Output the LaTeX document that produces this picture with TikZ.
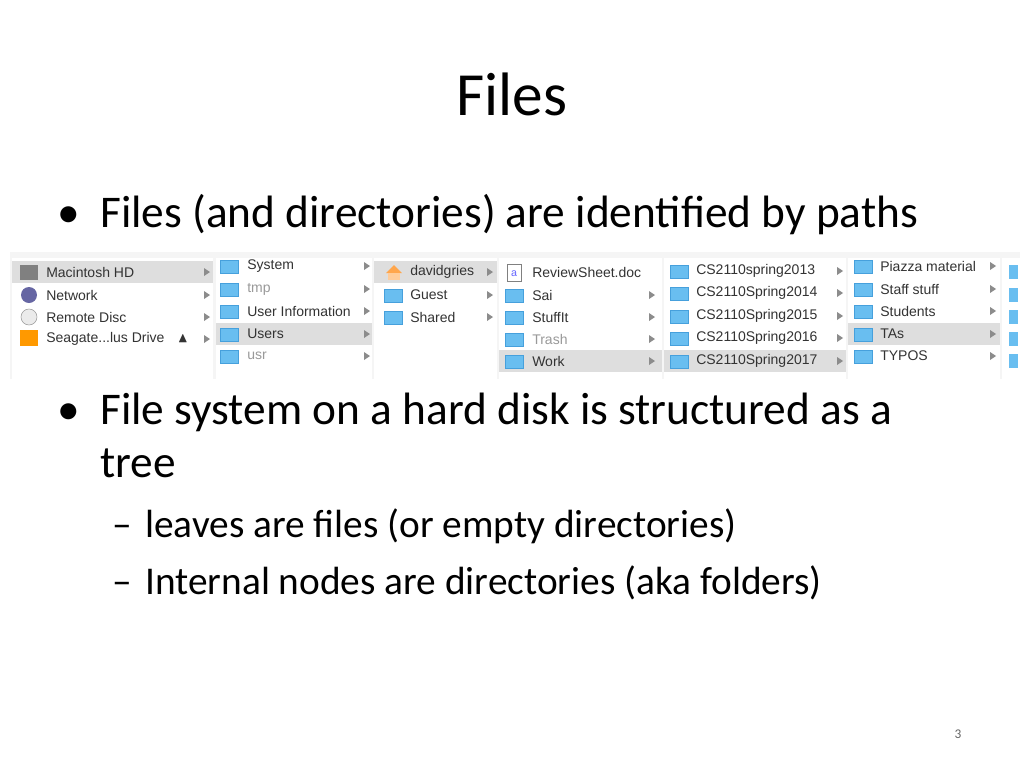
\documentclass[tikz,border=0pt]{standalone}
\usepackage{amssymb}
\usepackage{fontspec}
\setmainfont{Carlito}
\newfontfamily\finderfont{Liberation Sans}
\definecolor{foldblue}{RGB}{105,190,240}
\definecolor{foldedge}{RGB}{70,160,220}
\tikzset{
  slidetext/.style={anchor=base west, inner sep=0pt, font=\fontsize{34}{36}\selectfont},
  subtext/.style={anchor=base west, inner sep=0pt, font=\fontsize{29.5}{31}\selectfont},
  finder/.style={anchor=west, inner sep=0pt, font=\finderfont\fontsize{10.5}{12}\selectfont, text=black!80},
  faded/.style={finder, text=black!40},
  folder/.style={fill=foldblue, draw=foldedge, line width=0.4pt},
  seltrack/.style={fill=black!13, draw=none},
  tri/.style={fill=black!45, draw=none}
}
\newcommand{\fold}[3][folder]{\draw[#1] (#2-9,#3-6) rectangle (#2+9,#3+7);}
\newcommand{\tri}[2]{\fill[tri] (#1-3,#2-4) -- (#1+3,#2) -- (#1-3,#2+4) -- cycle;}
\begin{document}
\begin{tikzpicture}[x=0.75pt,y=-0.75pt]
\useasboundingbox (0,0) rectangle (1024,768);
\fill[white] (0,0) rectangle (1024,768);
% title and bullets
\node[anchor=base, inner sep=0pt, font=\fontsize{46}{48}\selectfont] (title) at (512,115) {Files};
\node[slidetext] (dot1) at (57,227) {\textbullet};
\node[slidetext] (b1) at (100,227) {Files (and directories) are identified by paths};
\node[slidetext] (dot2) at (57,424) {\textbullet};
\node[slidetext] (b2) at (100,424) {File system on a hard disk is structured as a};
\node[slidetext] (b2b) at (100,477) {tree};
\node[subtext] (dash1) at (112,537) {\textendash};
\node[subtext] (s1) at (145,537) {leaves are files (or empty directories)};
\node[subtext] (dash2) at (112,594) {\textendash};
\node[subtext] (s2) at (145,594) {Internal nodes are directories (aka folders)};
\node[anchor=base, inner sep=0pt, font=\fontsize{10}{11}\selectfont, text=black!60] (page) at (958,738) {3};
% finder strip
\fill[black!4] (10,252) rectangle (1020,379);
\foreach \a/\b in {12/213,216/372,374/497,499/662,664/846,848/1000,1002/1020}
  \fill[white] (\a,258) rectangle (\b,379);
\fill[seltrack] (12,261) rectangle (213,283);
\fill[seltrack] (216,323) rectangle (372,345);
\fill[seltrack] (374,261) rectangle (497,283);
\fill[seltrack] (499,350) rectangle (662,372);
\fill[seltrack] (664,350) rectangle (846,372);
\fill[seltrack] (848,323) rectangle (1000,345);
% column 1
\fill[black!50] (20,265) rectangle (38,280);
\fill[blue!40!black!60] (29,295) circle (8);
\draw[black!40, fill=black!8] (29,317) circle (8);
\fill[orange!80!yellow] (20,330) rectangle (38,346);
\node[finder] (mac) at (46,272) {Macintosh HD};
\node[finder] (net) at (46,295) {Network};
\node[finder] (rem) at (46,317) {Remote Disc};
\node[finder] (sea) at (46,339) {Seagate...lus Drive\hspace{10pt}$\blacktriangle$};
\foreach \y in {272,295,317,339} {\tri{207}{\y}}
% column 2
\foreach \y/\t/\s in {266/System/finder,289/tmp/faded,311/User Information/finder,334/Users/finder,356/usr/faded} {
  \fold{229}{\y}
  \node[\s] at (247,\y) {\t};
  \tri{367}{\y}
}
% column 3
\fill[orange!70] (386,273) -- (394,265) -- (402,273) -- cycle;
\fill[orange!40] (388,273) rectangle (400,280);
\foreach \y/\t in {295/Guest,317/Shared} {\fold{393}{\y}}
\foreach \y/\t in {272/davidgries,295/Guest,317/Shared} {
  \node[finder] at (410,\y) {\t};
  \tri{490}{\y}
}
% column 4
\draw[black!50, fill=white] (507,264) rectangle (521,281);
\node[inner sep=0pt, font=\finderfont\fontsize{8}{8}\selectfont, text=blue!60] (docicon) at (514,274) {a};
\node[finder] (rev) at (532,272) {ReviewSheet.doc};
\foreach \y/\t/\s in {295/Sai/finder,317/StuffIt/finder,339/Trash/faded,361/Work/finder} {
  \fold{514}{\y}
  \node[\s] at (532,\y) {\t};
  \tri{652}{\y}
}
% column 5
\foreach \y/\t in {271/CS2110spring2013,293/CS2110Spring2014,316/CS2110Spring2015,338/CS2110Spring2016,361/CS2110Spring2017} {
  \fold{679}{\y}
  \node[finder] at (696,\y) {\t};
  \tri{840}{\y}
}
% column 6
\foreach \y/\t in {266/Piazza material,289/Staff stuff,311/Students,334/TAs,356/TYPOS} {
  \fold{863}{\y}
  \node[finder] at (880,\y) {\t};
  \tri{993}{\y}
}
% column 7
\foreach \y in {272,295,317,339,361} {\fill[foldblue] (1009,\y-7) rectangle (1018,\y+7);}
\end{tikzpicture}
\end{document}
